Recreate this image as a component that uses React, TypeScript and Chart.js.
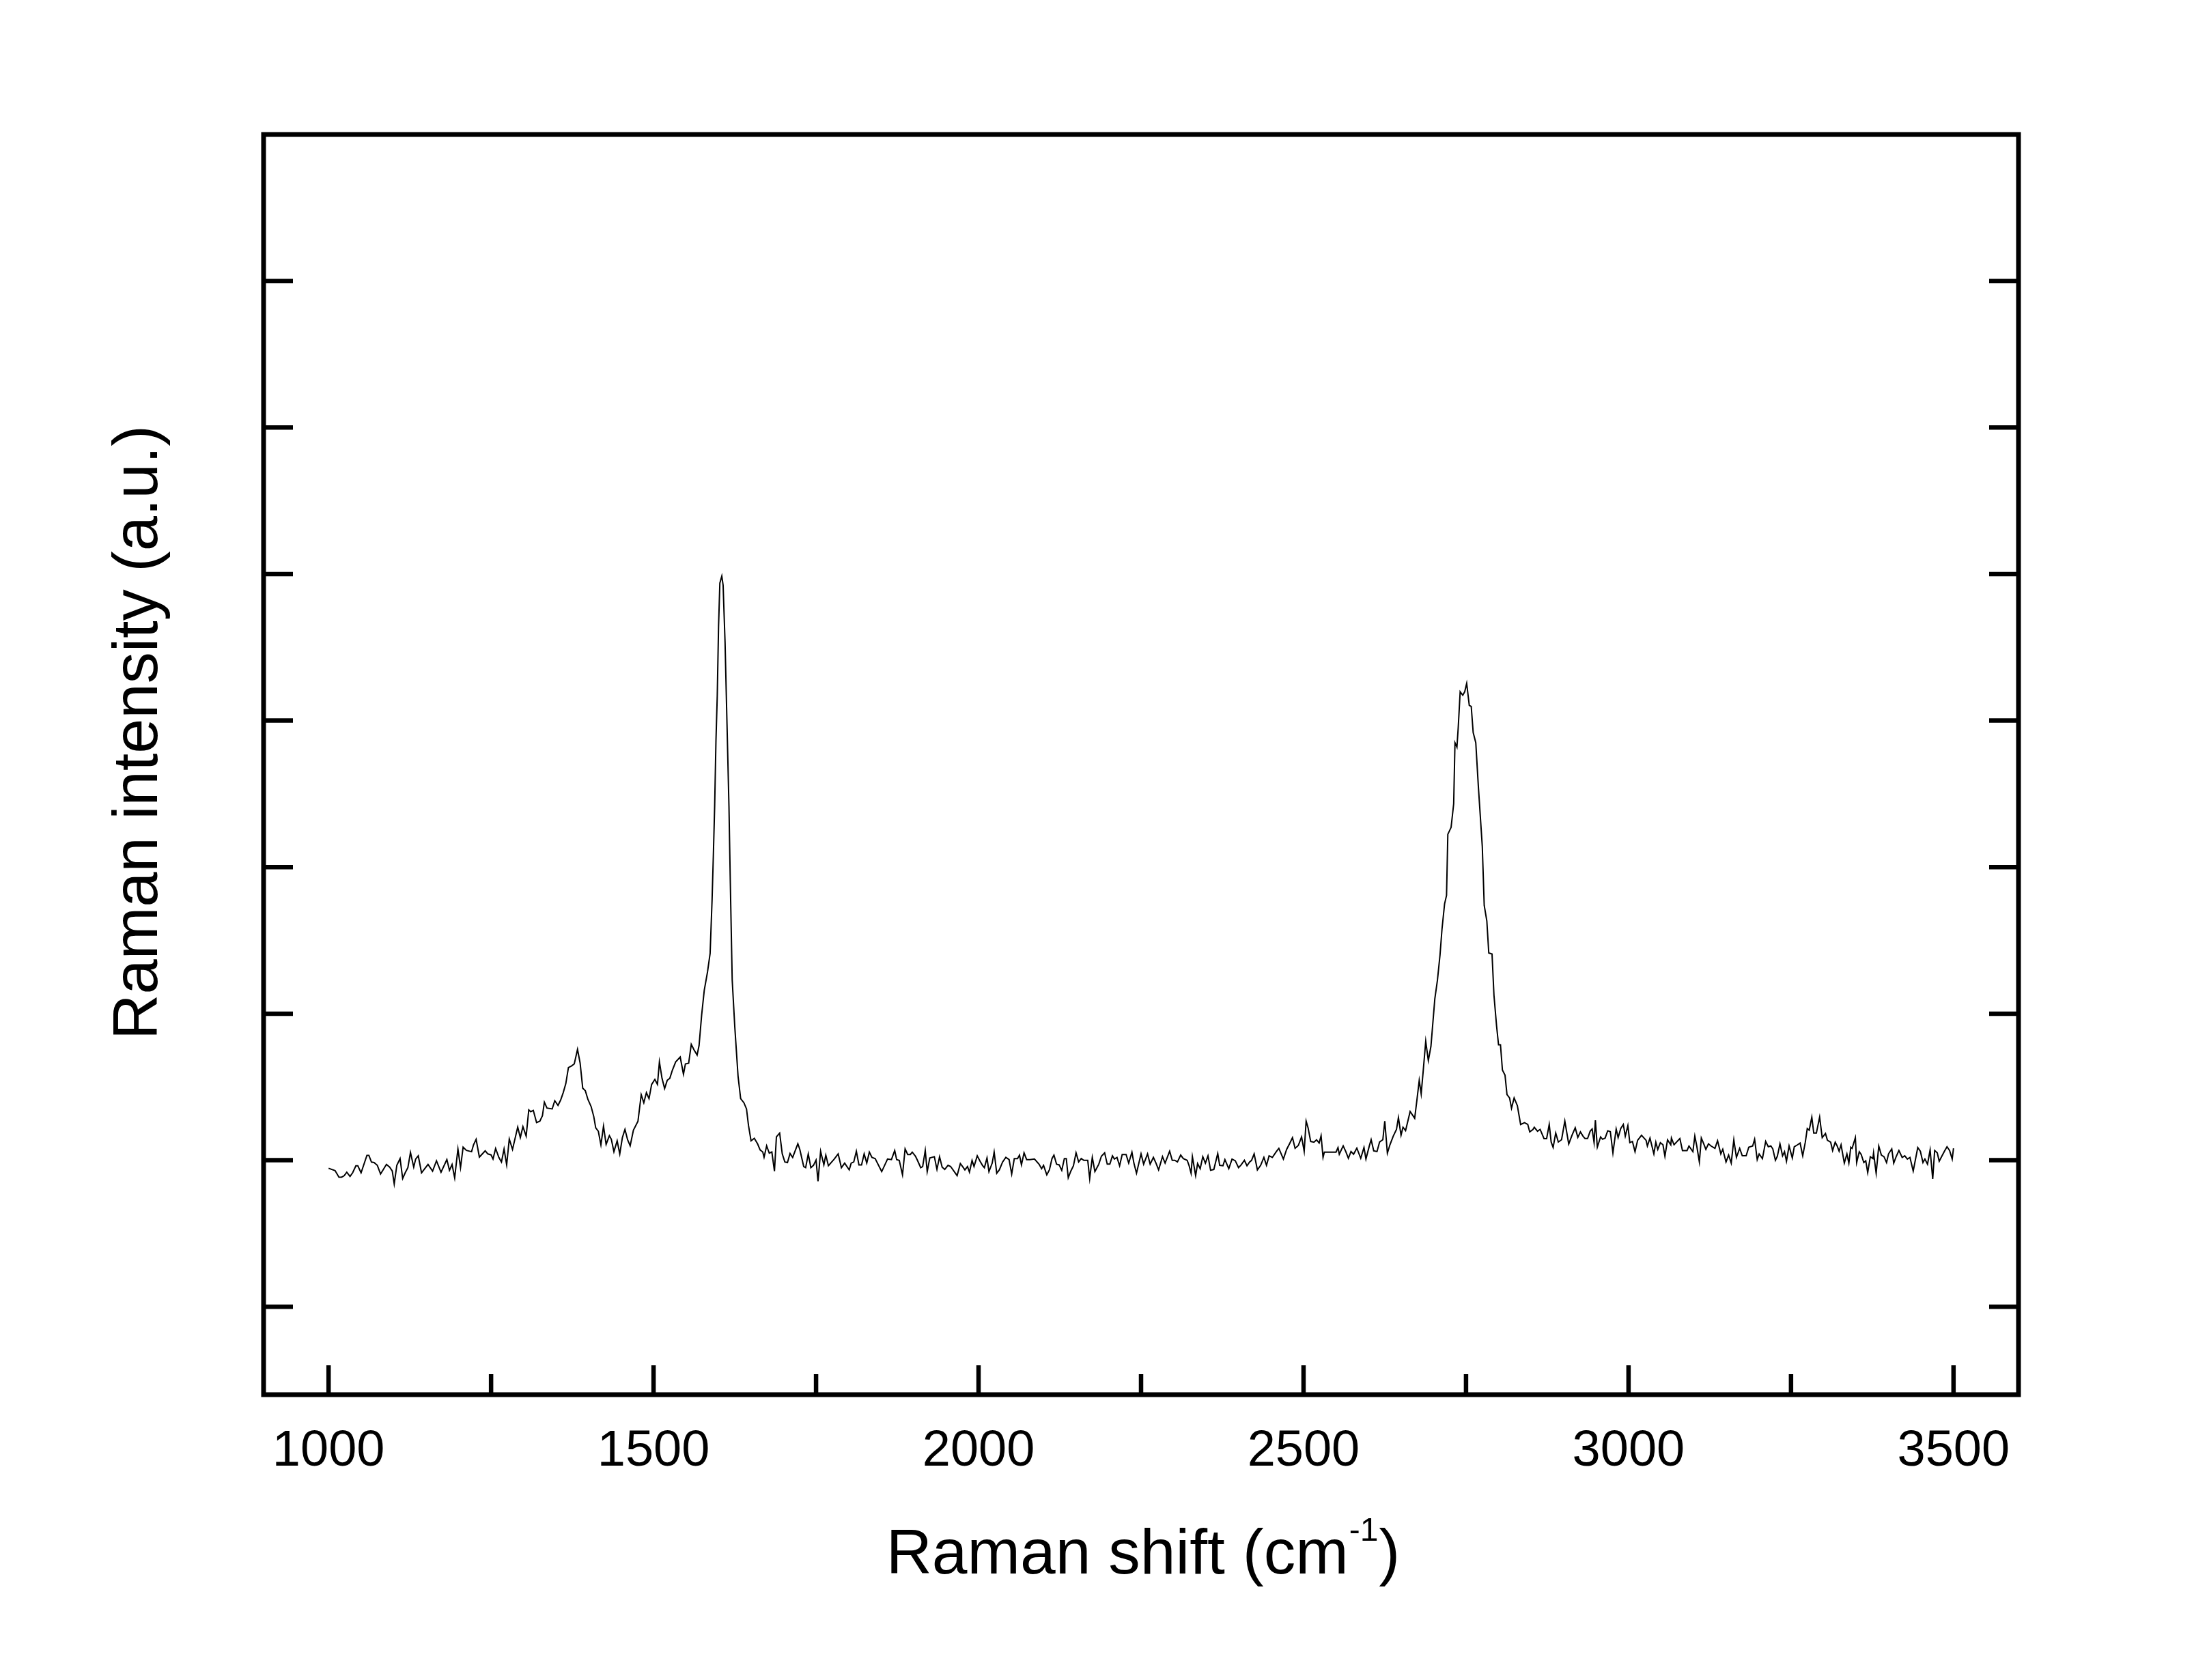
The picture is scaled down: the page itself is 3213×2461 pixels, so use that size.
import React, { useEffect, useRef } from "react";
import { Chart, registerables } from "chart.js";

Chart.register(...registerables);

// Raman shift (cm-1) of each sampled point
const ramanShift: number[] = [
  1000, 1010, 1016, 1020, 1024, 1028, 1033, 1037, 1042, 1045,
  1050, 1059, 1062, 1066, 1070, 1075, 1080, 1089, 1094, 1098,
  1101, 1105, 1110, 1114, 1118, 1122, 1126, 1131, 1134, 1138,
  1143, 1148, 1153, 1160, 1166, 1173, 1182, 1186, 1190, 1194,
  1199, 1203, 1207, 1212, 1220, 1223, 1227, 1232, 1241, 1245,
  1250, 1253, 1257, 1262, 1266, 1270, 1274, 1278, 1283, 1291,
  1295, 1299, 1304, 1308, 1311, 1315, 1320, 1325, 1329, 1332,
  1336, 1344, 1348, 1353, 1357, 1361, 1365, 1369, 1374, 1378,
  1383, 1387, 1391, 1395, 1399, 1404, 1408, 1411, 1415, 1419,
  1423, 1427, 1432, 1435, 1439,
  1444, 1448, 1452, 1456, 1460, 1464, 1469, 1476, 1481, 1485,
  1489, 1493, 1497, 1502, 1506, 1509, 1513, 1517, 1521, 1525,
  1529, 1534, 1541, 1546, 1549, 1554, 1558, 1562, 1567, 1570,
  1574, 1578, 1583, 1587, 1590, 1592, 1594, 1596, 1598, 1600,
  1602, 1605, 1607, 1610, 1613, 1616, 1618, 1621, 1625, 1630,
  1634, 1639, 1643, 1646, 1650, 1655, 1660, 1664, 1668, 1670,
  1674, 1678, 1682, 1686, 1689,
  1694, 1698, 1702, 1706, 1710, 1714, 1722, 1725, 1731, 1734,
  1738, 1742, 1746, 1750, 1753, 1757, 1762, 1765, 1769, 1778,
  1784, 1789, 1794, 1801, 1804, 1808, 1812, 1816, 1820, 1824,
  1828, 1832, 1836, 1841, 1851, 1860, 1866, 1871, 1874, 1878,
  1883, 1887, 1891, 1895, 1898, 1903, 1906, 1911, 1914, 1918,
  1921, 1925, 1932, 1936, 1940, 1944, 1948, 1953, 1957, 1967,
  1972, 1976, 1979, 1983, 1986, 1990, 1993, 1998, 2002, 2006,
  2009, 2013, 2016, 2021, 2024, 2028, 2032, 2037, 2042, 2047,
  2051, 2055, 2060, 2063, 2066, 2070, 2074, 2079, 2086, 2093,
  2097, 2100, 2105, 2109, 2113, 2116, 2120, 2124, 2128, 2132,
  2135, 2138, 2142, 2146, 2150, 2154, 2158, 2162, 2168, 2171,
  2175, 2179, 2185, 2189, 2194, 2198, 2202, 2206, 2209, 2213,
  2217, 2221, 2227, 2231, 2236, 2239, 2243, 2250, 2254, 2260,
  2264, 2269, 2273, 2277, 2283, 2287, 2294, 2298, 2302, 2306,
  2311, 2315, 2321, 2324, 2327, 2329, 2334, 2337, 2341, 2345,
  2349, 2353, 2357, 2362, 2368, 2371, 2376, 2379, 2385, 2390,
  2395, 2400, 2404, 2409, 2413, 2417, 2420, 2424, 2429, 2434,
  2439, 2443, 2447, 2452, 2458, 2462, 2469, 2474, 2479, 2483,
  2487, 2492, 2497, 2501, 2504, 2507, 2511, 2516, 2520, 2524,
  2527, 2530, 2532, 2550, 2553,
  2555, 2561, 2565, 2569, 2573, 2577, 2582, 2588, 2593, 2596,
  2601, 2604, 2608, 2613, 2617, 2622, 2625, 2629, 2633, 2638,
  2643, 2646, 2650, 2653, 2657, 2664, 2671, 2674, 2678, 2681,
  2684, 2688, 2692, 2696, 2702, 2706, 2710, 2713, 2717, 2720,
  2722, 2727, 2731, 2733, 2736, 2738, 2741, 2745, 2748, 2751,
  2755, 2758, 2761, 2765, 2769, 2775, 2778, 2782, 2785, 2790,
  2793, 2797, 2800, 2803, 2806, 2810, 2813, 2817, 2820, 2824,
  2829, 2834, 2840, 2845, 2848, 2853, 2855, 2860, 2864, 2870,
  2874, 2878, 2881, 2884, 2888, 2892, 2897, 2902, 2908, 2913,
  2918, 2922, 2926, 2930,
  2933, 2937, 2941, 2944, 2947, 2949, 2952, 2957, 2960, 2964,
  2968, 2972, 2976, 2981, 2984, 2988, 2992, 2995, 2999, 3002,
  3006, 3010, 3014, 3020, 3027, 3029, 3033, 3039, 3042, 3045,
  3049, 3053, 3056, 3060, 3065, 3066, 3070, 3079, 3083, 3090,
  3093, 3099, 3102, 3105, 3109, 3112, 3115, 3119, 3123, 3127,
  3133, 3137, 3142, 3145, 3150, 3154, 3158, 3162, 3166, 3171,
  3175, 3181, 3185, 3191, 3194, 3198, 3201, 3206, 3211, 3215,
  3219, 3222, 3226, 3229, 3233, 3237, 3240, 3243, 3247, 3252,
  3255, 3260, 3264, 3268, 3272, 3275, 3278, 3282, 3285, 3289,
  3294, 3298, 3303, 3306, 3311, 3314, 3318, 3321, 3324, 3327,
  3332, 3336, 3339, 3342, 3344, 3349, 3351, 3355, 3358, 3362,
  3365, 3368, 3372, 3376, 3377, 3381, 3385, 3389, 3393, 3397,
  3400, 3405, 3408, 3412, 3416, 3421, 3425, 3429, 3433, 3438,
  3445, 3449, 3453, 3456, 3460, 3464, 3468, 3471, 3475, 3478,
  3482, 3486, 3490, 3494, 3498, 3500,
];

// Raman intensity (a.u.), one value per shift above
const intensity: number[] = [
  0.945, 0.929, 0.884, 0.884, 0.894, 0.918, 0.889, 0.914, 0.962, 0.962,
  0.914, 1.033, 1.033, 0.987, 0.984, 0.965, 0.906, 0.971, 0.953, 0.926,
  0.838, 0.965, 1.011, 0.875, 0.915, 0.949, 1.053, 0.953, 1.008, 1.030,
  0.914, 0.943, 0.971, 0.925, 0.996, 0.918, 1.005, 0.931, 0.971, 0.880,
  1.077, 0.949, 1.089, 1.067, 1.058, 1.105, 1.142, 1.021, 1.064, 1.043,
  1.036, 1.008, 1.080, 1.019, 0.988, 1.077, 0.968, 1.145, 1.074, 1.226,
  1.154, 1.229, 1.164, 1.343, 1.331, 1.340, 1.257, 1.266, 1.303, 1.396,
  1.356, 1.350, 1.406, 1.374, 1.410, 1.461, 1.523, 1.632, 1.644, 1.657,
  1.756, 1.663, 1.492, 1.474, 1.415, 1.365, 1.298, 1.221, 1.198, 1.105,
  1.232, 1.108, 1.167, 1.143, 1.058,
  1.132, 1.043, 1.154, 1.210, 1.140, 1.098, 1.205, 1.266, 1.447, 1.392,
  1.461, 1.420, 1.517, 1.551, 1.517, 1.671, 1.559, 1.489, 1.545, 1.559,
  1.615, 1.671, 1.704, 1.587, 1.657, 1.662, 1.791, 1.755, 1.718, 1.783,
  1.992, 2.160, 2.285, 2.411, 2.774, 3.081, 3.416, 3.863, 4.170, 4.645,
  4.938, 4.986, 4.924, 4.533, 3.975, 3.416, 2.914, 2.229, 1.908, 1.573,
  1.420, 1.392, 1.350, 1.238, 1.132, 1.149, 1.112, 1.070, 1.056, 1.020,
  1.098, 1.048, 1.056, 0.925, 1.159,
  1.185, 1.043, 0.988, 0.984, 1.046, 1.019, 1.112, 1.074, 0.957, 0.949,
  1.043, 0.949, 0.965, 1.001, 0.856, 1.061, 0.968, 1.035, 0.962, 1.008,
  1.043, 0.949, 0.980, 0.934, 0.980, 0.988, 1.061, 0.968, 0.968, 1.043,
  0.980, 1.055, 1.019, 1.011, 0.922, 1.008, 1.004, 1.066, 1.004, 0.999,
  0.900, 1.077, 1.039, 1.039, 1.055, 1.027, 0.999, 0.949, 0.957, 1.066,
  0.922, 1.015, 1.024, 0.937, 1.024, 0.953, 0.937, 0.965, 0.957, 0.895,
  0.977, 0.953, 0.934, 0.957, 0.918, 0.999, 0.957, 1.030, 0.996, 0.965,
  0.949, 1.015, 0.922, 0.980, 1.055, 0.911, 0.934, 0.988, 1.019, 1.004,
  0.906, 1.011, 1.011, 1.035, 0.968, 1.050, 1.004, 1.004, 1.008, 0.973,
  0.942, 0.965, 0.900, 0.934, 1.011, 1.035, 0.973, 0.968, 0.931, 1.011,
  1.011, 0.880, 0.926, 0.962, 1.050, 0.988, 1.011, 0.999, 0.999, 0.875,
  1.019, 0.922, 0.973, 1.027, 1.050, 0.973, 0.973, 1.030, 1.008, 1.019,
  0.962, 1.039, 1.039, 0.980, 1.055, 0.980, 0.911, 1.043, 0.973, 1.043,
  0.973, 1.019, 0.980, 0.934, 1.024, 0.980, 1.061, 0.999, 0.999, 0.988,
  1.035, 1.011, 0.999, 0.962, 0.911, 1.024, 0.895, 0.977, 0.942, 1.024,
  0.980, 1.030, 0.931, 0.937, 1.046, 0.965, 0.962, 1.004, 0.942, 1.008,
  0.996, 0.949, 0.968, 0.999, 0.962, 0.988, 0.999, 1.043, 0.934, 0.965,
  1.019, 0.965, 1.030, 1.019, 1.058, 1.081, 1.008, 1.074, 1.117, 1.154,
  1.081, 1.101, 1.159, 1.061, 1.267, 1.221, 1.128, 1.123, 1.139, 1.117,
  1.167, 1.019, 1.055, 1.055, 1.086,
  1.041, 1.098, 1.059, 1.013, 1.059, 1.041, 1.082, 1.013, 1.087, 1.008,
  1.094, 1.140, 1.064, 1.059, 1.124, 1.140, 1.267, 1.048, 1.106, 1.164,
  1.210, 1.291, 1.170, 1.225, 1.202, 1.332, 1.286, 1.395, 1.545, 1.453,
  1.603, 1.811, 1.680, 1.777, 2.101, 2.228, 2.402, 2.576, 2.749, 2.807,
  3.224, 3.271, 3.432, 3.849, 3.819, 3.953, 4.197, 4.173, 4.197, 4.254,
  4.104, 4.097, 3.919, 3.849, 3.548, 3.143, 2.738, 2.633, 2.414, 2.407,
  2.124, 1.916, 1.788, 1.788, 1.615, 1.580, 1.448, 1.425, 1.355, 1.425,
  1.372, 1.244, 1.256, 1.244, 1.193, 1.210, 1.225, 1.198, 1.210, 1.147,
  1.147, 1.244, 1.124, 1.087, 1.186, 1.124, 1.140, 1.267, 1.110, 1.170,
  1.221, 1.156, 1.193, 1.164,
  1.148, 1.148, 1.198, 1.213, 1.120, 1.272, 1.089, 1.159, 1.143, 1.151,
  1.201, 1.195, 1.050, 1.213, 1.154, 1.216, 1.244, 1.164, 1.236, 1.120,
  1.128, 1.058, 1.136, 1.170, 1.136, 1.097, 1.151, 1.043, 1.123, 1.074,
  1.120, 1.105, 1.027, 1.139, 1.105, 1.151, 1.105, 1.148, 1.066, 1.066,
  1.097, 1.058, 1.164, 1.097, 0.988, 1.151, 1.120, 1.074, 1.112, 1.097,
  1.081, 1.133, 1.043, 1.074, 0.988, 1.035, 0.980, 1.139, 1.019, 1.081,
  1.030, 1.030, 1.089, 1.097, 1.143, 1.004, 1.043, 1.011, 1.128, 1.092,
  1.097, 1.077, 0.999, 1.027, 1.112, 1.030, 1.058, 0.993, 1.097, 1.015,
  1.092, 1.105, 1.117, 1.030, 1.123, 1.216, 1.205, 1.294, 1.185, 1.185,
  1.294, 1.154, 1.182, 1.136, 1.123, 1.066, 1.123, 1.097, 1.061, 1.105,
  0.980, 1.043, 0.980, 1.089, 1.081, 1.154, 0.984, 1.058, 1.039, 0.984,
  0.996, 0.915, 1.024, 1.011, 1.050, 0.911, 1.097, 1.035, 1.024, 0.984,
  1.043, 1.077, 0.980, 1.027, 1.066, 1.019, 1.030, 1.008, 1.019, 0.926,
  1.086, 1.061, 0.984, 1.008, 0.973, 1.070, 0.872, 1.066, 1.050, 0.993,
  1.027, 1.061, 1.092, 1.066, 1.008, 1.081,
];

const xMajorTicks: number[] = [1000, 1500, 2000, 2500, 3000, 3500];
const xMinorTicks: number[] = [1250, 1750, 2250, 2750, 3250];
const yTicks: number[] = [0, 1, 2, 3, 4, 5, 6, 7];

const xTitleMain = "Raman shift (cm";
const xTitleSup = "-1";
const xTitleEnd = ")";
const yTitle = "Raman intensity (a.u.)";

const FONT = '"Liberation Sans", Arial, Helvetica, sans-serif';

const framePlugin = {
  id: "frameAndTitles",
  afterDraw(chart: any) {
    const { ctx, chartArea, scales } = chart;
    const { left, right, top, bottom } = chartArea;
    const xs = scales.x;
    const ys = scales.y;
    ctx.save();
    ctx.strokeStyle = "#000";
    ctx.lineCap = "butt";
    // inward ticks
    ctx.lineWidth = 6.5;
    ctx.beginPath();
    for (const v of xMajorTicks) {
      const px = xs.getPixelForValue(v);
      ctx.moveTo(px, bottom);
      ctx.lineTo(px, bottom - 43);
    }
    for (const v of xMinorTicks) {
      const px = xs.getPixelForValue(v);
      ctx.moveTo(px, bottom);
      ctx.lineTo(px, bottom - 30);
    }
    for (const v of yTicks) {
      const py = ys.getPixelForValue(v);
      ctx.moveTo(left, py);
      ctx.lineTo(left + 43, py);
      ctx.moveTo(right, py);
      ctx.lineTo(right - 43, py);
    }
    ctx.stroke();
    // frame
    ctx.lineWidth = 7;
    ctx.lineJoin = "miter";
    ctx.strokeRect(left, top, right - left, bottom - top);

    // x title with superscript
    ctx.fillStyle = "#000";
    ctx.textBaseline = "alphabetic";
    ctx.textAlign = "left";
    const mainFont = `93px ${FONT}`;
    const supFont = `48px ${FONT}`;
    ctx.font = mainFont;
    const w1 = ctx.measureText(xTitleMain).width;
    const w3 = ctx.measureText(xTitleEnd).width;
    ctx.font = supFont;
    const w2 = ctx.measureText(xTitleSup).width;
    const total = w1 + w2 + w3;
    const cx = (left + right) / 2 + 2;
    const x0 = cx - total / 2;
    const base = 2305;
    ctx.font = mainFont;
    ctx.fillText(xTitleMain, x0, base);
    ctx.font = supFont;
    ctx.fillText(xTitleSup, x0 + w1 + 1, base - 48);
    ctx.font = mainFont;
    ctx.fillText(xTitleEnd, x0 + w1 + w2 + 2, base);

    // y title
    ctx.save();
    ctx.translate(230, 1073);
    ctx.rotate(-Math.PI / 2);
    ctx.font = `92px ${FONT}`;
    ctx.textAlign = "center";
    ctx.textBaseline = "alphabetic";
    ctx.fillText(yTitle, 0, 0);
    ctx.restore();

    ctx.restore();
  },
};

export default function App() {
  const canvasRef = useRef<HTMLCanvasElement | null>(null);

  useEffect(() => {
    const canvas = canvasRef.current;
    if (!canvas) return;
    const points = ramanShift.map((x, i) => ({ x, y: intensity[i] }));
    const chart = new Chart(canvas, {
      type: "line",
      data: {
        datasets: [
          {
            data: points,
            borderColor: "#000",
            borderWidth: 2,
            pointRadius: 0,
            fill: false,
            tension: 0,
          },
        ],
      },
      options: {
        responsive: false,
        animation: false,
        devicePixelRatio: 1,
        layout: { padding: { left: 386, right: 257, top: 197, bottom: 268 } },
        plugins: {
          legend: { display: false },
          tooltip: { enabled: false },
          title: { display: false },
        },
        scales: {
          x: {
            type: "linear",
            min: 900,
            max: 3600,
            grid: { display: false, drawTicks: false },
            border: { display: false },
            ticks: {
              color: "#000",
              font: { family: FONT, size: 74 },
              padding: 39,
              maxRotation: 0,
              autoSkip: false,
              callback: (v: any) => String(v),
            },
            afterBuildTicks: (s: any) => {
              s.ticks = xMajorTicks.map((v) => ({ value: v }));
            },
            afterFit: (s: any) => {
              s.height = 150;
            },
          },
          y: {
            type: "linear",
            min: -0.6,
            max: 8,
            grid: { display: false, drawTicks: false },
            border: { display: false },
            ticks: { display: false },
            afterBuildTicks: (s: any) => {
              s.ticks = yTicks.map((v) => ({ value: v }));
            },
            afterFit: (s: any) => {
              s.width = 0;
            },
          },
        },
      } as any,
      plugins: [framePlugin],
    });
    return () => chart.destroy();
  }, []);

  return (
    <div style={{ position: "absolute", left: 0, top: 0, width: 3213, height: 2461 }}>
      <canvas
        ref={canvasRef}
        width={3213}
        height={2461}
        style={{ display: "block", width: 3213, height: 2461 }}
      />
    </div>
  );
}
